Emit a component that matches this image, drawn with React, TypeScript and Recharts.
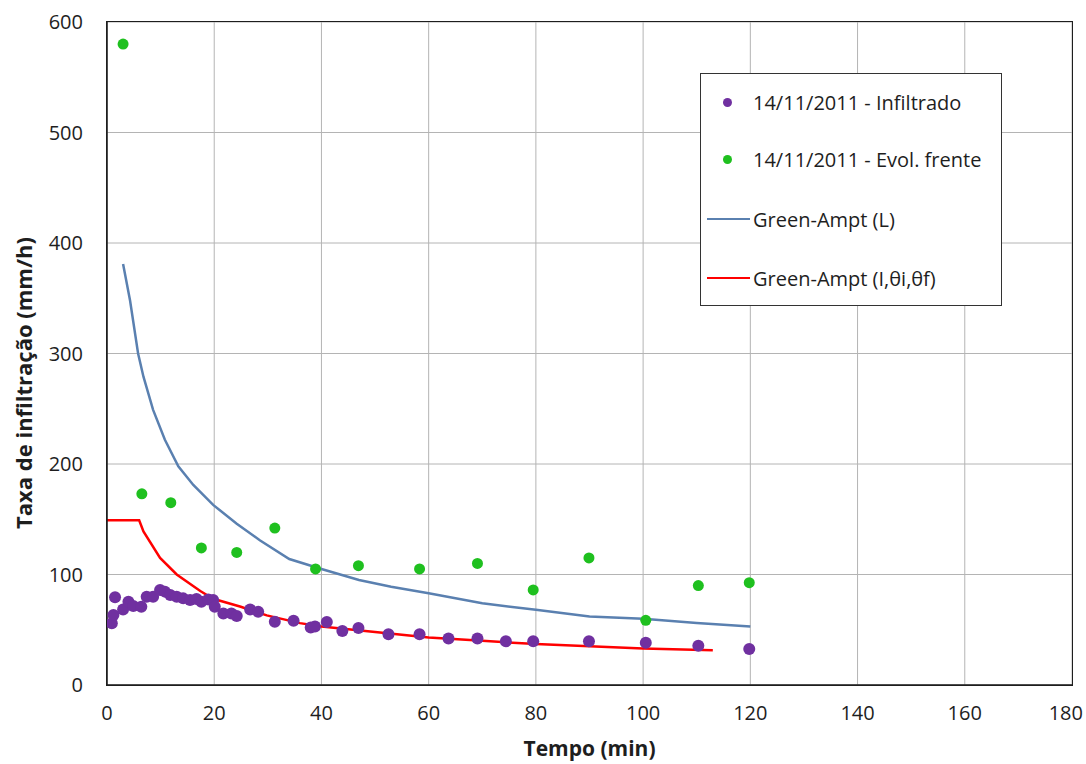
import {
  ComposedChart,
  Line,
  Scatter,
  XAxis,
  YAxis,
  CartesianGrid,
} from "recharts";

// 14/11/2011 - Infiltrado (purple points)
const infilT = [
  0.9, 1.2, 1.5, 3.0, 4.0, 4.9, 6.4, 7.4, 8.6, 9.9, 10.8, 11.8, 13.0, 14.2,
  15.5, 16.7, 17.6, 18.9, 19.8, 20.1, 21.7, 23.2, 24.2, 26.7, 28.2, 31.3, 34.8,
  38.0, 38.8, 41.0, 43.9, 46.9, 52.5, 58.3, 63.7, 69.1, 74.4, 79.5, 89.9, 100.5,
  110.3, 119.8,
];
const infilY = [
  55.8, 63.3, 79.4, 68.4, 75.4, 71.5, 70.9, 79.9, 79.9, 86, 84.5, 81.4, 79.9,
  78.4, 76.9, 77.8, 75.4, 77.3, 76.9, 70.9, 64.8, 64.8, 62.4, 68.4, 66.3, 57.3,
  58.2, 52, 53, 57, 48.9, 51.6, 46, 46, 42, 42, 39.5, 39.5, 39.5, 38.3, 35.6,
  32.6,
];

// 14/11/2011 - Evol. frente (green points)
const frenteT = [
  3.0, 6.5, 11.9, 17.6, 24.2, 31.3, 38.9, 46.9, 58.3, 69.1, 79.5, 89.9, 100.5,
  110.3, 119.8,
];
const frenteY = [
  580, 173, 165, 124, 120, 142, 105, 108, 105, 110, 86, 115, 58.5, 90, 92.6,
];

// Green-Ampt (L)
const gaLT = [
  3, 4.3, 5.8, 6.8, 8.6, 10.8, 13.3, 16.1, 19.8, 24.2, 28.5, 34, 40, 47, 53, 60,
  70, 80, 90, 100, 110, 120,
];
const gaLY = [
  381, 348, 300, 279, 249, 222, 198, 181, 163, 146, 131, 114, 105, 95, 89, 83,
  74, 68, 62, 60, 56, 53,
];

// Green-Ampt (I, θi, θf)
const gaIT = [
  0, 6, 6.8, 9.9, 13, 17.4, 19.8, 24.8, 29.8, 36, 40, 50, 60, 70, 80, 90, 100,
  113,
];
const gaIY = [
  149, 149, 139, 115, 100, 85, 78, 71, 63, 56, 53, 48, 43, 40, 37, 35, 33, 31.4,
];

const xTicks = [0, 20, 40, 60, 80, 100, 120, 140, 160, 180];
const yTicks = [0, 100, 200, 300, 400, 500, 600];

const zip = (t: number[], y: number[]) => t.map((x, i) => ({ t: x, y: y[i] }));

const infilData = zip(infilT, infilY);
const frenteData = zip(frenteT, frenteY);
const gaLData = zip(gaLT, gaLY);
const gaIData = zip(gaIT, gaIY);

const FONT = "'Open Sans', sans-serif";
const INK = "#1e1e1e";
const PURPLE = "#7030A0";
const GREEN = "#1FC01F";
const BLUE = "#5A80B0";
const RED = "#FF0000";

// plot box (chart margins + axis sizes)
const M = { top: 22, right: 14, left: 27, bottom: 19 };
const Y_W = 80;
const X_H = 60;
const W = 1086;
const H = 764;

const dot = (color: string, r: number) => (props: any) =>
  <circle cx={props.cx} cy={props.cy} r={r} fill={color} />;

// last x label is pulled inside the picture, like Excel does
const XTick = (props: any) => {
  const { x, y, payload } = props;
  const last = payload.value === xTicks[xTicks.length - 1];
  return (
    <text
      x={last ? x + 11 : x}
      y={y}
      dy="0.71em"
      textAnchor={last ? "end" : "middle"}
      fontFamily={FONT}
      fontSize={20}
      fill={INK}
    >
      {payload.value}
    </text>
  );
};

function LegendBox() {
  const text = { fontFamily: FONT, fontSize: 20, color: INK };
  const row = (marker: React.ReactNode, label: string, top: number) => (
    <div
      style={{
        position: "absolute",
        left: 0,
        top,
        display: "flex",
        alignItems: "center",
        height: 28,
        whiteSpace: "nowrap",
        ...text,
      }}
    >
      {marker}
      <span>{label}</span>
    </div>
  );
  const dotMarker = (c: string) => (
    <div style={{ width: 52, display: "flex", justifyContent: "center" }}>
      <div
        style={{
          width: 9,
          height: 9,
          borderRadius: "50%",
          background: c,
          marginLeft: 1,
        }}
      />
    </div>
  );
  const lineMarker = (c: string) => (
    <div style={{ width: 52, display: "flex", alignItems: "center" }}>
      <div style={{ marginLeft: 6, width: 43, height: 2.5, background: c }} />
    </div>
  );
  return (
    <div
      style={{
        position: "absolute",
        left: 700,
        top: 73,
        width: 300,
        height: 231,
        border: "1.5px solid #333",
        background: "#fff",
      }}
    >
      {row(dotMarker(PURPLE), "14/11/2011 - Infiltrado", 14)}
      {row(dotMarker(GREEN), "14/11/2011 - Evol. frente", 71)}
      {row(lineMarker(BLUE), "Green-Ampt (L)", 131)}
      {row(lineMarker(RED), "Green-Ampt (I,θi,θf)", 190)}
    </div>
  );
}

export default function App() {
  return (
    <div
      style={{
        position: "absolute",
        left: 0,
        top: 0,
        width: W,
        height: H,
        background: "#fff",
      }}
    >
      <ComposedChart width={W} height={H} margin={M}>
        <CartesianGrid stroke="#b4b4b4" strokeWidth={1} />
        <XAxis
          type="number"
          dataKey="t"
          domain={[0, 180]}
          ticks={xTicks}
          allowDataOverflow
          height={X_H}
          tickLine={false}
          tickSize={0}
          tickMargin={21}
          axisLine={{ stroke: INK, strokeWidth: 1.5 }}
          tick={<XTick />}
          label={{
            content: () => (
              <text
                x={589.5}
                y={756}
                textAnchor="middle"
                fontFamily={FONT}
                fontSize={21}
                fontWeight="bold"
                fill={INK}
              >
                Tempo (min)
              </text>
            ),
          }}
        />
        <YAxis
          type="number"
          dataKey="y"
          domain={[0, 600]}
          ticks={yTicks}
          width={Y_W}
          tickLine={false}
          tickSize={0}
          tickMargin={24}
          axisLine={{ stroke: INK, strokeWidth: 1.5 }}
          tick={{ fontFamily: FONT, fontSize: 20, fill: INK }}
          label={{
            content: () => (
              <text
                x={0}
                y={0}
                transform="translate(32,383) rotate(-90)"
                textAnchor="middle"
                fontFamily={FONT}
                fontSize={22}
                fontWeight="bold"
                fill={INK}
              >
                Taxa de infiltração (mm/h)
              </text>
            ),
          }}
        />
        <Line
          data={gaLData}
          dataKey="y"
          name="Green-Ampt (L)"
          type="linear"
          stroke={BLUE}
          strokeWidth={2.5}
          dot={false}
          isAnimationActive={false}
        />
        <Line
          data={gaIData}
          dataKey="y"
          name="Green-Ampt (I,θi,θf)"
          type="linear"
          stroke={RED}
          strokeWidth={2.5}
          dot={false}
          isAnimationActive={false}
        />
        <Scatter
          data={infilData}
          dataKey="y"
          name="14/11/2011 - Infiltrado"
          shape={dot(PURPLE, 6)}
          isAnimationActive={false}
        />
        <Scatter
          data={frenteData}
          dataKey="y"
          name="14/11/2011 - Evol. frente"
          shape={dot(GREEN, 5.5)}
          isAnimationActive={false}
        />
      </ComposedChart>
      {/* plot frame */}
      <div
        style={{
          position: "absolute",
          left: M.left + Y_W - 1,
          top: M.top - 1,
          width: W - M.left - Y_W - M.right,
          height: H - M.top - M.bottom - X_H,
          border: `1.5px solid ${INK}`,
          pointerEvents: "none",
        }}
      />
      <LegendBox />
    </div>
  );
}
